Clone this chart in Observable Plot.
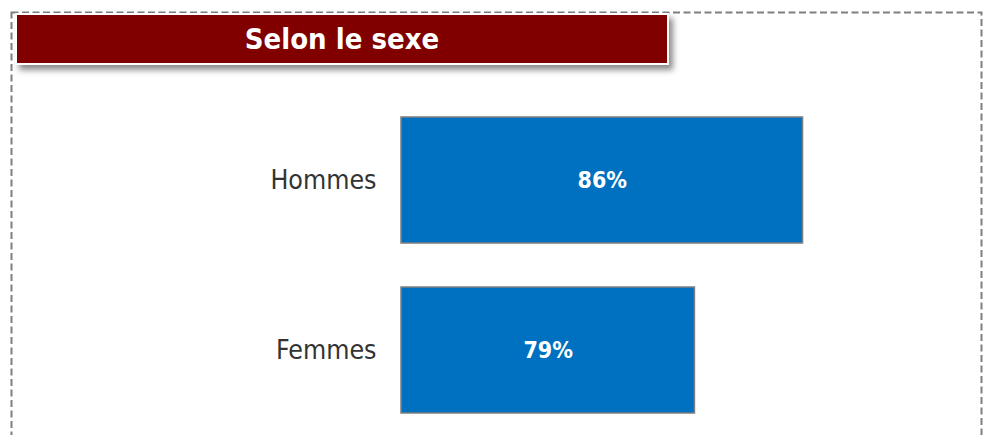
<!DOCTYPE html>
<html>
<head>
<meta charset="utf-8">
<script src="https://cdn.jsdelivr.net/npm/d3@7"></script>
<script src="https://cdn.jsdelivr.net/npm/@observablehq/plot@0.6"></script>
<style>
  html, body { margin: 0; padding: 0; background: #fff; overflow: hidden; }
  #wrap { position: relative; width: 984px; height: 435px; overflow: hidden; }
  #border { position: absolute; left: 0; top: 0; }
  #chart { position: absolute; left: 0; top: 0; }
  #title {
    position: absolute; left: 15px; top: 13px; width: 650px; height: 48px;
    background: #800000; border: 2px solid #fff;
    box-shadow: 4px 5px 6px rgba(0,0,0,0.45);
    color: #fff; font-family: "DejaVu Sans Condensed", "DejaVu Sans", sans-serif;
    font-stretch: condensed; font-weight: bold; font-size: 29px;
    line-height: 48px; text-align: center;
  }
</style>
</head>
<body>
<div id="wrap">
  <svg id="border" width="984" height="435">
    <rect x="11.5" y="12.5" width="970" height="440" fill="none" stroke="#7f7f7f" stroke-width="2" stroke-dasharray="7,3.5"/>
  </svg>
  <div id="chart"></div>
  <div id="title">Selon le sexe</div>
</div>
<script>
const categories = ["Hommes", "Femmes"];
const values = [86, 79];
const valueLabels = ["86%", "79%"];
const xDomain = [60, 96];

const data = categories.map((c, i) => ({cat: c, value: values[i], label: valueLabels[i]}));

const chart = Plot.plot({
  width: 984,
  height: 470,
  marginLeft: 401,
  marginRight: 27,
  marginTop: 73,
  marginBottom: 13,
  style: {
    fontFamily: "'DejaVu Sans Condensed', 'DejaVu Sans', sans-serif",
    fontStretch: "condensed",
    color: "#333",
    background: "transparent",
    overflow: "visible"
  },
  x: {domain: xDomain, axis: null},
  y: {domain: categories, padding: 0.2588, label: null, axis: null},
  marks: [
    Plot.barX(data, {x1: xDomain[0], x2: "value", y: "cat", fill: "#0070C0", stroke: "#7f7f7f", strokeWidth: 1.5}),
    Plot.text(data, {x: d => (xDomain[0] + d.value) / 2, y: "cat", text: "label", fill: "#fff", fontSize: 23, fontWeight: "bold"}),
    Plot.axisY({tickSize: 0, tickPadding: 25, fontSize: 26.5, label: null, fill: "#333"})
  ]
});
document.getElementById("chart").appendChild(chart);
</script>
</body>
</html>
